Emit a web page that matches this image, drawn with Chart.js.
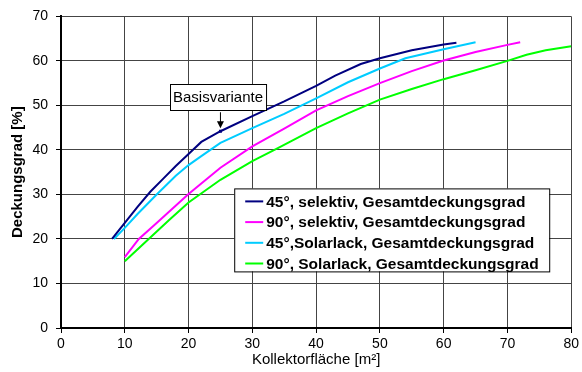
<!DOCTYPE html>
<html>
<head>
<meta charset="utf-8">
<script src="https://cdn.jsdelivr.net/npm/chart.js@4.4.1/dist/chart.umd.min.js"></script>
<style>
  html, body { margin: 0; padding: 0; background: #fff; }
  canvas { display: block; }
</style>
</head>
<body>
<canvas id="myChart" width="582" height="372"></canvas>
<script>
// values
const seriesLabels = [
  "45°, selektiv, Gesamtdeckungsgrad",
  "90°, selektiv, Gesamtdeckungsgrad",
  "45°,Solarlack, Gesamtdeckungsgrad",
  "90°, Solarlack, Gesamtdeckungsgrad"
];
const seriesColors = ["#000080", "#ff00ff", "#00ccff", "#00ff00"];

const sel45X = [8, 10, 12, 14, 16, 18, 20, 22, 25, 30, 35, 40, 43, 47, 50, 55, 60, 62];
const sel45Y = [20, 23.6, 27.2, 30.6, 33.5, 36.4, 39.1, 41.8, 44.2, 47.6, 50.9, 54.4, 56.7, 59.3, 60.6, 62.4, 63.7, 64.1];

const sel90X = [10, 12.2, 15, 20, 25, 30, 35, 40, 45, 50, 55, 60, 65, 70, 72];
const sel90Y = [15.9, 20, 23.6, 30.1, 36, 40.8, 44.8, 48.9, 52.1, 55, 57.7, 60.1, 62, 63.6, 64.2];

const lack45X = [8.3, 10, 12, 15, 18, 20, 22, 25, 30, 35, 40, 45, 50, 54, 60, 65];
const lack45Y = [20, 22.5, 25.6, 30, 34.2, 36.6, 38.6, 41.6, 44.9, 48.1, 51.6, 55.2, 58.3, 60.6, 62.6, 64.2];

const lack90X = [10, 13.75, 17, 20, 25, 30, 34, 40, 45, 50, 55, 60, 65, 70, 73, 76, 80];
const lack90Y = [15, 20, 24.3, 28.2, 33.3, 37.5, 40.4, 44.9, 48.2, 51.3, 53.7, 55.9, 57.9, 60, 61.4, 62.4, 63.3];

const xTicks = [0, 10, 20, 30, 40, 50, 60, 70, 80];
const yTicks = [0, 10, 20, 30, 40, 50, 60, 70];

const basisLabel = "Basisvariante";
const basisX = 25;
const basisY = 44.2;

function toPoints(xs, ys) {
  return xs.map((x, i) => ({ x: x, y: ys[i] }));
}

const allX = [sel45X, sel90X, lack45X, lack90X];
const allY = [sel45Y, sel90Y, lack45Y, lack90Y];

const datasets = seriesLabels.map((label, i) => ({
  label: label,
  data: toPoints(allX[i], allY[i]),
  borderColor: seriesColors[i],
  backgroundColor: seriesColors[i],
  borderWidth: 2,
  showLine: true,
  pointRadius: 0,
  tension: 0,
  fill: false
}));

// legend box inside the plot, drawn by hand
const boxLegend = {
  id: 'boxLegend',
  afterDraw(chart) {
    const ctx = chart.ctx;
    const area = chart.chartArea;
    const left = area.right - 337;
    const top = area.top + 172;
    const w = 315, h = 83;
    ctx.save();
    ctx.fillStyle = '#fff';
    ctx.fillRect(left, top, w, h);
    ctx.strokeStyle = '#000';
    ctx.lineWidth = 1;
    ctx.strokeRect(left + 0.5, top + 0.5, w, h);
    ctx.font = 'bold 15.5px "Liberation Sans", Arial, sans-serif';
    ctx.textBaseline = 'middle';
    ctx.fillStyle = '#000';
    chart.data.datasets.forEach((ds, i) => {
      const y = top + 13 + i * 20.7;
      ctx.strokeStyle = ds.borderColor;
      ctx.lineWidth = 2;
      ctx.beginPath();
      ctx.moveTo(left + 11, y);
      ctx.lineTo(left + 29, y);
      ctx.stroke();
      ctx.fillText(ds.label, left + 32, y + 1);
    });
    ctx.restore();
  }
};

// "Basisvariante" callout with arrow
const basisNote = {
  id: 'basisNote',
  afterDatasetsDraw(chart) {
    const ctx = chart.ctx;
    const px = chart.scales.x.getPixelForValue(basisX);
    const py = chart.scales.y.getPixelForValue(basisY);
    ctx.save();
    ctx.font = '15px "Liberation Sans", Arial, sans-serif';
    const tw = ctx.measureText(basisLabel).width;
    const bw = tw + 6, bh = 26;
    const bx = Math.round(px - 2 - bw / 2), by = Math.round(py - 47);
    ctx.fillStyle = '#fff';
    ctx.fillRect(bx, by, bw, bh);
    ctx.strokeStyle = '#000';
    ctx.lineWidth = 1;
    ctx.strokeRect(bx + 0.5, by + 0.5, bw, bh);
    ctx.fillStyle = '#000';
    ctx.textBaseline = 'middle';
    ctx.textAlign = 'center';
    ctx.fillText(basisLabel, bx + bw / 2, by + bh / 2 + 1);
    // arrow
    ctx.beginPath();
    ctx.moveTo(px, py - 19);
    ctx.lineTo(px, py - 9);
    ctx.stroke();
    ctx.beginPath();
    ctx.moveTo(px - 3.5, py - 10);
    ctx.lineTo(px + 3.5, py - 10);
    ctx.lineTo(px, py - 3);
    ctx.closePath();
    ctx.fill();
    ctx.fillStyle = '#000080';
    ctx.fillRect(px - 1.5, py - 1.5, 3, 3);
    ctx.restore();
  }
};

const ctx = document.getElementById('myChart');
new Chart(ctx, {
  type: 'scatter',
  data: { datasets: datasets },
  options: {
    responsive: false,
    animation: false,
    layout: { padding: { top: 14, right: 8, left: 0, bottom: 0 } },
    plugins: {
      legend: { display: false },
      tooltip: { enabled: false }
    },
    scales: {
      x: {
        type: 'linear',
        min: xTicks[0],
        max: xTicks[xTicks.length - 1],
        afterBuildTicks: (scale) => { scale.ticks = xTicks.map(v => ({ value: v })); },
        afterFit: (scale) => { scale.height = 44; },
        grid: { color: '#444', lineWidth: 1, drawTicks: true, tickLength: 5, tickColor: '#000' },
        border: { display: true, color: '#000', width: 2 },
        ticks: {
          color: '#000',
          padding: 3,
          maxRotation: 0,
          font: { family: '"Liberation Sans", Arial, sans-serif', size: 14 }
        },
        title: {
          display: true,
          text: 'Kollektorfläche [m²]',
          color: '#000',
          padding: { top: 0, bottom: 3 },
          font: { family: '"Liberation Sans", Arial, sans-serif', size: 15 }
        }
      },
      y: {
        type: 'linear',
        min: yTicks[0],
        max: yTicks[yTicks.length - 1],
        afterBuildTicks: (scale) => { scale.ticks = yTicks.map(v => ({ value: v })); },
        afterFit: (scale) => { scale.width = 61; },
        grid: { color: '#444', lineWidth: 1, drawTicks: true, tickLength: 5, tickColor: '#000' },
        border: { display: true, color: '#000', width: 2 },
        ticks: {
          color: '#000',
          padding: 8,
          font: { family: '"Liberation Sans", Arial, sans-serif', size: 14 }
        },
        title: {
          display: true,
          text: 'Deckungsgrad [%]',
          color: '#000',
          padding: { top: 9, bottom: 0 },
          font: { family: '"Liberation Sans", Arial, sans-serif', size: 15, weight: 'bold' }
        }
      }
    }
  },
  plugins: [basisNote, boxLegend]
});
</script>
</body>
</html>
